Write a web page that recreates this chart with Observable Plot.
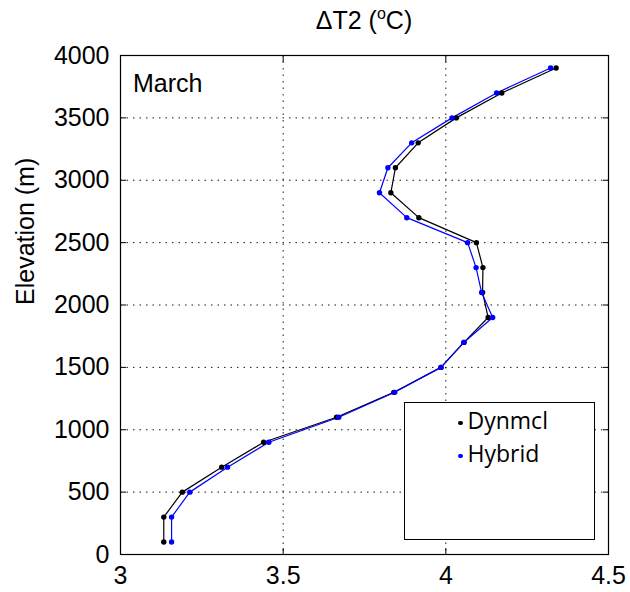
<!DOCTYPE html>
<html><head><meta charset="utf-8">
<script src="https://cdn.jsdelivr.net/npm/d3@7"></script>
<script src="https://cdn.jsdelivr.net/npm/@observablehq/plot@0.6"></script>
<style>
body{margin:0;background:#fff}
#wrap{position:relative;width:630px;height:592px;font-family:"Liberation Sans",Arial,sans-serif}
#title{position:absolute;left:0;width:728px;top:8px;text-align:center;font-size:25px;line-height:25px;color:#000}
#title sup{font-size:16px;vertical-align:10px;line-height:0}
#legend{position:absolute;left:404px;top:402px;width:189px;height:136px;border:1.5px solid #000;background:#fff;font-family:"Open Sans","Liberation Sans",sans-serif;font-size:23px;color:#000}
.item{position:absolute;left:53px;line-height:24px;white-space:nowrap}
.dot{display:inline-block;width:4.5px;height:4.5px;border-radius:50%;margin-right:5px;vertical-align:4px}
#march{position:absolute;left:133px;top:71px;font-size:25px;line-height:25px}
</style>
</head><body><div id="wrap"></div>
<script>
const elevations = [100,300,500,700,900,1100,1300,1500,1700,1900,2100,2300,2500,2700,2900,3100,3300,3500,3700,3900];
const dynmcl = [3.133,3.133,3.190,3.311,3.440,3.664,3.840,3.985,4.056,4.130,4.113,4.114,4.094,3.917,3.831,3.845,3.915,4.032,4.172,4.339];
const hybrid = [3.157,3.157,3.213,3.329,3.456,3.671,3.843,3.985,4.055,4.144,4.110,4.093,4.067,3.880,3.796,3.822,3.895,4.019,4.156,4.322];
const xTicks = [3,3.5,4,4.5];
const yTicks = [0,500,1000,1500,2000,2500,3000,3500,4000];
const xGrid = [3.5,4];
const yGrid = [500,1000,1500,2000,2500,3000,3500];
const seriesNames = ["Dynmcl","Hybrid"];
const seriesColors = ["#000000","#0000ff"];

const rows = [];
elevations.forEach((e,i)=>{
  rows.push({series:seriesNames[0], x:dynmcl[i], y:e});
  rows.push({series:seriesNames[1], x:hybrid[i], y:e});
});

const chart = Plot.plot({
  width:630, height:592,
  marginTop:55, marginBottom:38, marginLeft:120, marginRight:22,
  style:{fontFamily:"Liberation Sans, Arial, sans-serif", fontSize:"25px", color:"#000", background:"#fff"},
  x:{domain:[3,4.5]},
  y:{domain:[0,4000]},
  color:{domain:seriesNames, range:seriesColors},
  marks:[
    Plot.gridX(xGrid,{stroke:"#000", strokeOpacity:0.9, strokeDasharray:"1.5,5"}),
    Plot.gridY(yGrid,{stroke:"#000", strokeOpacity:0.9, strokeDasharray:"1.5,5"}),
    Plot.axisX(xTicks,{anchor:"bottom", tickSize:-6, text:null, label:null}),
    Plot.axisX(xTicks,{anchor:"top", tickSize:-6, text:null, label:null}),
    Plot.axisY(yTicks,{anchor:"left", tickSize:-6, text:null, label:null}),
    Plot.axisY(yTicks,{anchor:"right", tickSize:-6, text:null, label:null}),
    Plot.axisX(xTicks,{anchor:"bottom", tickSize:0, tickPadding:12, label:null, tickFormat:d=>String(d), fontSize:25}),
    Plot.axisY(yTicks,{anchor:"left", tickSize:0, tickPadding:11, label:null, tickFormat:d=>String(d), fontSize:25}),
    Plot.text(["Elevation (m)"],{frameAnchor:"left", dx:-95, rotate:-90, fontSize:25, text:d=>d}),
    Plot.line(rows,{x:"x", y:"y", z:"series", stroke:"series", strokeWidth:1.2}),
    Plot.dot(rows,{x:"x", y:"y", fill:"series", r:2.7}),
    Plot.frame({stroke:"#000", strokeWidth:1.2})
  ]
});
const wrap = document.getElementById("wrap");
wrap.appendChild(chart);
const t = document.createElement("div"); t.id="title"; t.innerHTML="&Delta;T2 (<sup>o</sup>C)"; wrap.appendChild(t);
const m = document.createElement("div"); m.id="march"; m.textContent="March"; wrap.appendChild(m);
const lg = document.createElement("div"); lg.id="legend";
seriesNames.forEach((n,i)=>{
  const it=document.createElement("div"); it.className="item"; it.style.top=(5+i*33)+"px";
  it.innerHTML=`<span class="dot" style="background:${seriesColors[i]}"></span>${n}`;
  lg.appendChild(it);
});
wrap.appendChild(lg);
</script>
</body></html>
